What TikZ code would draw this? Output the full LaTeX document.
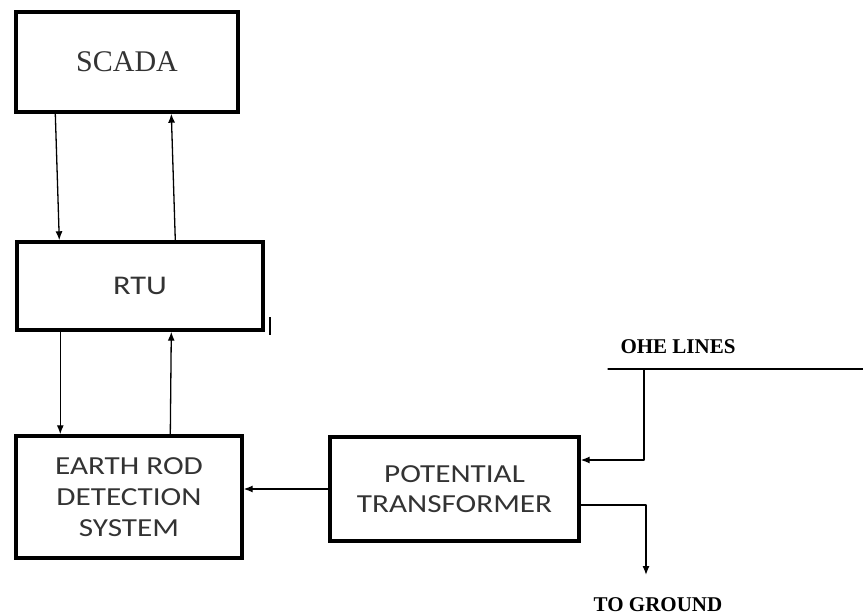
\documentclass[tikz,border=0pt]{standalone}
\usepackage{fontspec}
\setmainfont{Liberation Serif}
\newfontfamily\boxfont[FakeStretch=1.2]{Carlito}
\usetikzlibrary{arrows.meta}

\begin{document}
\begin{tikzpicture}[line cap=round,line join=round,>={Latex[length=9pt,width=7pt]},x=1pt,y=-1pt,
	blk/.style={draw,line width=3.4pt,line join=miter,inner sep=0pt,text=black!80},
	lnk/.style={line width=1.3pt},
	lbl/.style={font=\bfseries\fontsize{21}{23}\selectfont}]
				\useasboundingbox (0,0) rectangle (863,615);
				\node[blk,minimum width=222pt,minimum height=100pt,font=\fontsize{30}{32}\selectfont] (scada) at (127,62) {SCADA};
				\node[blk,minimum width=246pt,minimum height=88pt,font=\boxfont\fontsize{27}{30}\selectfont] (rtu) at (140,286) {RTU};
				\node[blk,minimum width=226pt,minimum height=122pt,align=center,font=\boxfont\fontsize{26}{31}\selectfont] (earth) at (129,497) {EARTH ROD\\DETECTION\\SYSTEM};
				\node[blk,minimum width=249pt,minimum height=104pt,align=center,font=\boxfont\fontsize{26}{30}\selectfont] (pt) at (454.5,489) {POTENTIAL\\TRANSFORMER};
				\node[lbl] (ohe) at (678,347) {OHE LINES};
				\node[lbl] (ground) at (658,605) {TO GROUND};
				\coordinate (ohea) at (608,369);
				\coordinate (oheb) at (863,369);
				\coordinate (tap) at (644,369);
				\coordinate (gnd) at (646,575);
				\draw [lnk,->] ([xshift=41pt]scada.south west) -- ([xshift=44pt]rtu.north west);
				\draw [lnk,->] ([xshift=160pt]rtu.north west) -- ([xshift=157pt]scada.south west);
				\draw [lnk,->] ([xshift=45pt]rtu.south west) -- ([xshift=46pt]earth.north west);
				\draw [lnk,->] ([xshift=156pt]earth.north west) -- ([xshift=156pt]rtu.south west);
				\draw [lnk,->] (pt.west) -- (pt.west -| earth.east);
				\draw [lnk] (ohea) -- (oheb);
				\draw [lnk,->] (tap) |- ([yshift=29pt]pt.east);
				\draw [lnk,->] ([yshift=-16pt]pt.east) -| (gnd);
				\draw [line width=2.4pt,line cap=butt] ([xshift=5pt,yshift=-3pt]rtu.south east) -- ++(0,-18);
			\end{tikzpicture}
\end{document}
